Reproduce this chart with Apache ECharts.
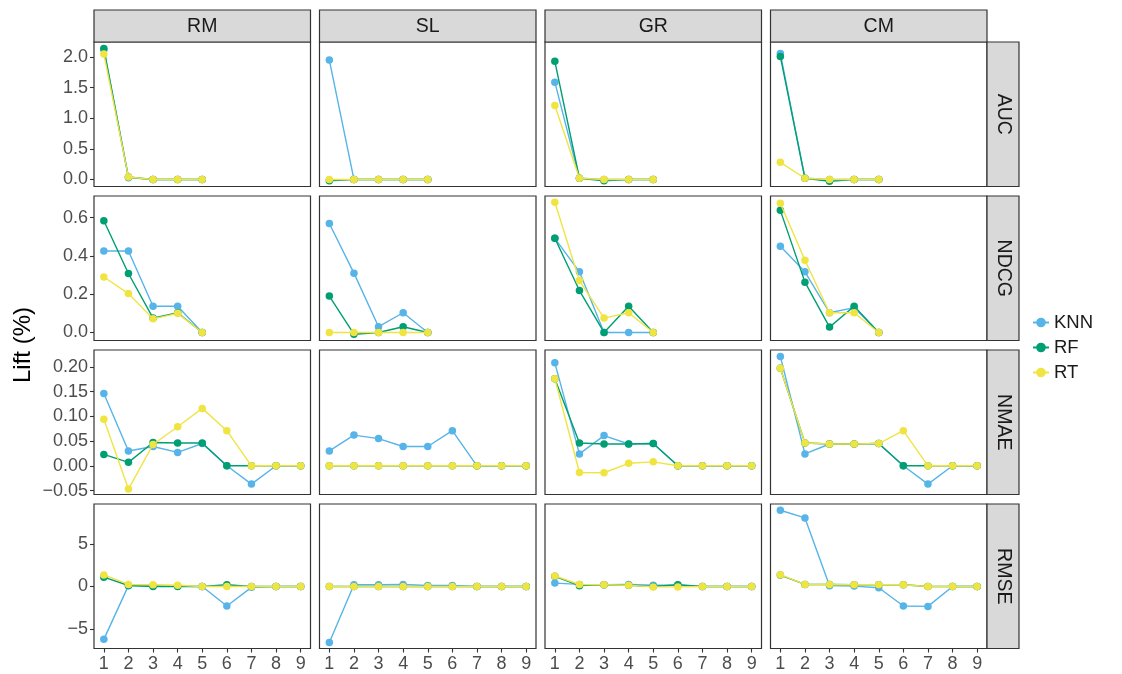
<!DOCTYPE html>
<html>
<head>
<meta charset="utf-8">
<script src="https://cdn.jsdelivr.net/npm/echarts@6/dist/echarts.min.js"></script>
<style>html,body{margin:0;padding:0;background:#fff}#chart{width:1122px;height:674px}</style>
</head>
<body>
<div id="chart"></div>
<script>
// ---- categories ----
const columns = ['RM', 'SL', 'GR', 'CM'];
const metrics = ['AUC', 'NDCG', 'NMAE', 'RMSE'];
const models = ['KNN', 'RF', 'RT'];
const xShort = [1, 2, 3, 4, 5];
const xLong = [1, 2, 3, 4, 5, 6, 7, 8, 9];
const xTicks = [1, 2, 3, 4, 5, 6, 7, 8, 9];

// ---- tick labels per metric row ----
const ticksAUC = [0, 0.5, 1.0, 1.5, 2.0];
const ticksNDCG = [0, 0.2, 0.4, 0.6];
const ticksNMAE = [-0.05, 0, 0.05, 0.10, 0.15, 0.20];
const ticksRMSE = [-5, 0, 5];

// ---- series values: [RM, SL, GR, CM] ----
const AUC_KNN = [[2.12,0.03,0,0,0],[1.95,0,0,0,0],[1.59,0.02,0,0,0],[2.06,0.02,0,0,0]];
const AUC_RF  = [[2.14,0.04,0,0,0],[-0.02,0,0,0,0],[1.93,0.02,-0.02,0,0],[2.01,0.02,-0.03,0,0]];
const AUC_RT  = [[2.05,0.04,0,0,0],[0,0,0,0,0],[1.21,0.02,0,0,0],[0.28,0.02,0,0,0]];

const NDCG_KNN = [[0.426,0.426,0.137,0.137,0],[0.569,0.31,0.03,0.103,0],[0.492,0.317,0,0,0],[0.45,0.317,0.103,0.13,0]];
const NDCG_RF  = [[0.584,0.308,0.075,0.103,0],[0.19,-0.009,0,0.03,0],[0.492,0.219,0,0.137,0],[0.638,0.263,0.028,0.137,0]];
const NDCG_RT  = [[0.29,0.203,0.071,0.10,0],[0,0,0,0,0],[0.68,0.271,0.075,0.103,0],[0.675,0.377,0.103,0.103,0]];

const NMAE_KNN = [[0.146,0.030,0.039,0.027,0.045,0,-0.037,0,0],[0.030,0.062,0.055,0.039,0.039,0.071,0,0,0],[0.208,0.024,0.061,0.044,0.045,0,0,0,0],[0.221,0.024,0.044,0.044,0.045,0,-0.037,0,0]];
const NMAE_RF  = [[0.023,0.007,0.047,0.046,0.046,0,0,0,0],[0,0,0,0,0,0,0,0,0],[0.176,0.046,0.044,0.044,0.045,0,0,0,0],[0.197,0.046,0.044,0.044,0.045,0,0,0,0]];
const NMAE_RT  = [[0.094,-0.047,0.043,0.079,0.116,0.071,0,0,0],[0,0,0,0,0,0,0,0,0],[0.176,-0.0135,-0.014,0.005,0.008,0,0,0,0],[0.197,0.046,0.044,0.044,0.045,0.071,0,0,0]];

const RMSE_KNN = [[-6.24,0.1,0.1,0.05,0,-2.3,-0.1,0,0],[-6.6,0.2,0.2,0.25,0.12,0.12,0,0,0],[0.4,0.25,0.2,0.24,0.15,0.15,0,0,0],[9.0,8.1,0.1,0.05,-0.15,-2.3,-2.35,0,0]];
const RMSE_RF  = [[1.1,0.12,0,0,0,0.2,0,0,0],[0,0,0,0,0,0,0,0,0],[1.2,0.1,0.2,0.15,0,0.2,0,0,0],[1.35,0.24,0.24,0.2,0.2,0.2,0,0,0]];
const RMSE_RT  = [[1.37,0.24,0.2,0.15,0,0,0,0,0],[0,0,0,0,0,0,0,0,0],[1.25,0.24,0.2,0.15,-0.05,-0.05,0,0,0],[1.4,0.24,0.24,0.2,0.2,0.2,0,0,0]];

// ---- assembly ----
const rowData = [
  {vals: [AUC_KNN, AUC_RF, AUC_RT], x: xShort, ticks: ticksAUC, dec: 1, min: -0.115, max: 2.246},
  {vals: [NDCG_KNN, NDCG_RF, NDCG_RT], x: xShort, ticks: ticksNDCG, dec: 1, min: -0.042, max: 0.713},
  {vals: [NMAE_KNN, NMAE_RF, NMAE_RT], x: xLong, ticks: ticksNMAE, dec: 2, min: -0.058, max: 0.234},
  {vals: [RMSE_KNN, RMSE_RF, RMSE_RT], x: xLong, ticks: ticksRMSE, dec: 0, min: -7.32, max: 9.74}
];
const colors = ['#56B4E9', '#009E73', '#F0E442'];

const colLeft = [94, 319.5, 545, 770.5];
const panelW = 216.5;
const rowTop = [42, 196, 350, 504];
const panelH = 144.5;
const FONT = 'Liberation Sans, Arial, sans-serif';
const TICKFONT = 18;

const grids = [], xAxes = [], yAxes = [], series = [], graphics = [];
let gi = 0;
for (let r = 0; r < 4; r++) {
  for (let c = 0; c < 4; c++) {
    const rd = rowData[r];
    grids.push({left: colLeft[c], top: rowTop[r], width: panelW, height: panelH,
      show: true, borderColor: '#333333', borderWidth: 1.2, backgroundColor: '#ffffff', containLabel: false});
    const bottom = r === 3;
    xAxes.push({type: 'value', gridIndex: gi, min: 0.6, max: 9.4, position: 'bottom',
      splitLine: {show: false}, axisLine: {show: false, onZero: false},
      axisTick: {show: bottom, length: 4, lineStyle: {color: '#333333', width: 1.1}, customValues: xTicks},
      axisLabel: {show: bottom, customValues: xTicks, margin: 7, fontSize: TICKFONT, color: '#4d4d4d', fontFamily: FONT}});
    const left = c === 0;
    const dec = rd.dec;
    yAxes.push({type: 'value', gridIndex: gi, min: rd.min, max: rd.max, position: 'left',
      splitLine: {show: false}, axisLine: {show: false, onZero: false},
      axisTick: {show: left, length: 4, lineStyle: {color: '#333333', width: 1.1}, customValues: rd.ticks},
      axisLabel: {show: left, customValues: rd.ticks, margin: 6, fontSize: TICKFONT, color: '#4d4d4d', fontFamily: FONT,
        formatter: v => (Math.abs(v) < 1e-9 ? 0 : v).toFixed(dec).replace('-', '\u2212')}});
    for (let m = 0; m < 3; m++) {
      const ys = rd.vals[m][c];
      series.push({name: models[m], type: 'line', xAxisIndex: gi, yAxisIndex: gi,
        data: rd.x.map((x, i) => [x, ys[i]]),
        symbol: 'circle', symbolSize: 7.5, showSymbol: true,
        itemStyle: {color: colors[m]}, lineStyle: {color: colors[m], width: 1.4},
        emphasis: {disabled: true}, animation: false, z: 2 + m});
    }
    gi++;
  }
}

// strips (top)
for (let c = 0; c < 4; c++) {
  graphics.push({type: 'rect', shape: {x: colLeft[c], y: 10, width: panelW, height: 32},
    style: {fill: '#d9d9d9', stroke: '#333333', lineWidth: 1.2}, z: 10});
  graphics.push({type: 'text', x: colLeft[c] + panelW / 2, y: 26.5,
    style: {text: columns[c], fill: '#1a1a1a', fontSize: 19.5, fontFamily: FONT, align: 'center', verticalAlign: 'middle'}, z: 11});
}
// strips (right)
for (let r = 0; r < 4; r++) {
  graphics.push({type: 'rect', shape: {x: 987, y: rowTop[r], width: 32, height: panelH},
    style: {fill: '#d9d9d9', stroke: '#333333', lineWidth: 1.2}, z: 10});
  graphics.push({type: 'text', x: 1003.5, y: rowTop[r] + panelH / 2, rotation: -Math.PI / 2,
    style: {text: metrics[r], fill: '#1a1a1a', fontSize: 19.5, fontFamily: FONT, align: 'center', verticalAlign: 'middle'}, z: 11});
}
// y axis title
graphics.push({type: 'text', x: 23, y: 345, rotation: Math.PI / 2,
  style: {text: 'Lift (%)', fill: '#000000', fontSize: 24, fontFamily: FONT, align: 'center', verticalAlign: 'middle'}, z: 11});

const chart = echarts.init(document.getElementById('chart'), null, {renderer: 'canvas'});
chart.setOption({
  animation: false,
  backgroundColor: '#ffffff',
  grid: grids, xAxis: xAxes, yAxis: yAxes, series: series,
  legend: {data: models, orient: 'vertical', left: 1027, top: 308, itemWidth: 16, itemHeight: 12, itemGap: 6,
    textStyle: {fontSize: 18.5, color: '#1a1a1a', fontFamily: FONT}, selectedMode: false},
  graphic: graphics
});
</script>
</body>
</html>
